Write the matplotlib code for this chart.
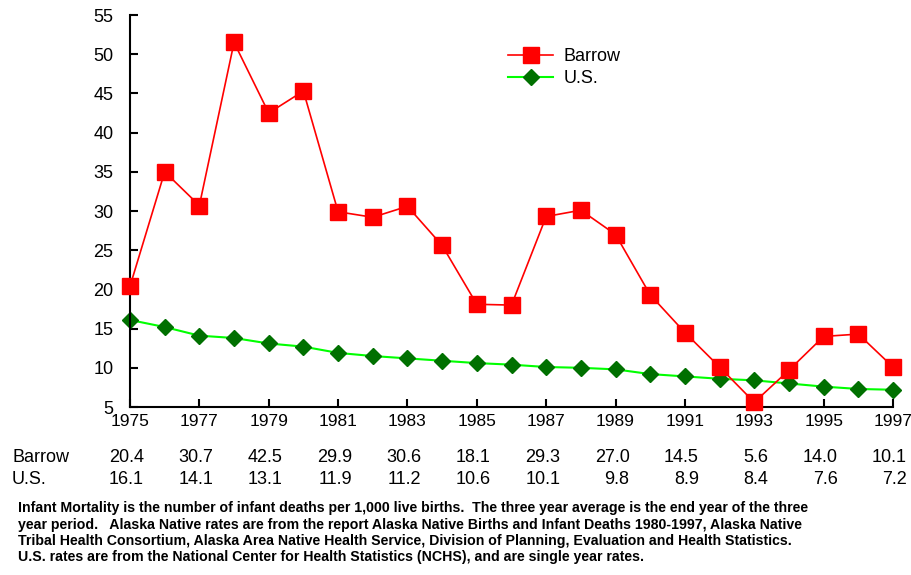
import matplotlib
matplotlib.use("Agg")
import matplotlib.pyplot as plt
import matplotlib.transforms as mtransforms

plt.rcParams['font.family'] = ['Liberation Sans', 'DejaVu Sans']

years = list(range(1975, 1998))
barrow = [20.4, 35.0, 30.7, 51.5, 42.5, 45.3, 29.9, 29.2, 30.6, 25.6, 18.1, 18.0,
          29.3, 30.1, 27.0, 19.3, 14.5, 10.1, 5.6, 9.7, 14.0, 14.3, 10.1]
us = [16.1, 15.2, 14.1, 13.8, 13.1, 12.7, 11.9, 11.5, 11.2, 10.9, 10.6, 10.4,
      10.1, 10.0, 9.8, 9.2, 8.9, 8.6, 8.4, 8.0, 7.6, 7.3, 7.2]

table_years = list(range(1975, 1998, 2))
barrow_table = ["20.4", "30.7", "42.5", "29.9", "30.6", "18.1", "29.3", "27.0",
                "14.5", "5.6", "14.0", "10.1"]
us_table = ["16.1", "14.1", "13.1", "11.9", "11.2", "10.6", "10.1", "9.8",
            "8.9", "8.4", "7.6", "7.2"]

footnote = [
    "Infant Mortality is the number of infant deaths per 1,000 live births.  The three year average is the end year of the three",
    "year period.   Alaska Native rates are from the report Alaska Native Births and Infant Deaths 1980-1997, Alaska Native",
    "Tribal Health Consortium, Alaska Area Native Health Service, Division of Planning, Evaluation and Health Statistics.",
    "U.S. rates are from the National Center for Health Statistics (NCHS), and are single year rates.",
]

fig = plt.figure(figsize=(9.11, 5.75), dpi=100)
ax = fig.add_axes([130 / 911, 1 - 407 / 575, 763 / 911, 392 / 575])

ax.plot(years, barrow, color='#ff0000', lw=1.2, marker='s', ms=11.5,
        mfc='#ff0000', mec='#ff0000', label='Barrow', clip_on=False, zorder=3)
ax.plot(years, us, color='#00ff00', lw=1.5, marker='D', ms=8,
        mfc='#007000', mec='#007000', label='U.S.', clip_on=False, zorder=2)

ax.set_xlim(1975, 1997)
ax.set_ylim(5, 55)
ax.set_xticks(table_years)
ax.set_yticks(range(5, 60, 5))
ax.spines['top'].set_visible(False)
ax.spines['right'].set_visible(False)
for s in ['left', 'bottom']:
    ax.spines[s].set_linewidth(1.5)
ax.tick_params(direction='in', length=6, width=1.5, labelsize=12.5, pad=5)
ax.tick_params(axis='y', pad=12, labelsize=13)

ax.legend(loc='upper left', bbox_to_anchor=(508 / 911, 1 - 48 / 575),
          bbox_transform=fig.transFigure, frameon=False, fontsize=13,
          handlelength=2.5, handletextpad=0.6, labelspacing=0.3,
          borderpad=0, borderaxespad=0)

# data table under the axis
trans = mtransforms.blended_transform_factory(ax.transData, fig.transFigure)
fig.text(12 / 911, 1 - 458 / 575, "Barrow", fontsize=13, va='center')
fig.text(12 / 911, 1 - 479 / 575, "U.S.", fontsize=13, va='center')
for yr, b, u in zip(table_years, barrow_table, us_table):
    ax.annotate(b, xy=(yr, 1 - 458 / 575), xycoords=trans, xytext=(14, 0),
                textcoords='offset pixels', ha='right', va='center', fontsize=13)
    ax.annotate(u, xy=(yr, 1 - 479 / 575), xycoords=trans, xytext=(14, 0),
                textcoords='offset pixels', ha='right', va='center', fontsize=13)

for i, line in enumerate(footnote):
    fig.text(18 / 911, 1 - (508 + i * 16.5) / 575, line, fontsize=10.2,
             fontweight='bold', va='center')

fig.savefig("out.png", dpi=100)
